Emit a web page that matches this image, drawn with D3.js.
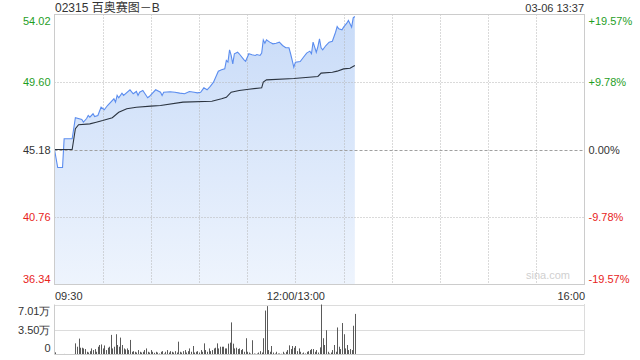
<!DOCTYPE html>
<html>
<head>
<meta charset="utf-8">
<script src="https://cdn.jsdelivr.net/npm/d3@7"></script>
<style>
  body { margin:0; background:#fff; }
  svg { display:block; font-family:"Liberation Sans", Arial, "Noto Sans CJK SC", sans-serif; }
</style>
</head>
<body>
<svg id="chart" width="640" height="360"></svg>
<script>
// 02315 百奥赛图－B 分时
const title = "02315 百奥赛图－B"
const stamp = "03-06 13:37"
const preClose = 45.18

const priceTicks = [54.02, 49.60, 45.18, 40.76, 36.34]
const pctTicks = ["+19.57%", "+9.78%", "0.00%", "-9.78%", "-19.57%"]
const timeTicks = ["09:30", "12:00/13:00", "16:00"]
const volTicks = [0, 3.50, 7.01]

// 价格 (采样点)
const priceTime = ["09:30","09:32","09:35","09:36","09:41","09:43","09:47","09:48","09:50","09:51",
  "09:52","09:54","09:55","09:57","09:59","10:01","10:03","10:07","10:08","10:09",
  "10:10","10:12","10:13","10:17","10:19","10:21","10:22","10:23","10:25","10:28",
  "10:29","10:33","10:36","10:37","10:38","10:42","10:45","10:48","10:51","10:54",
  "10:57","10:59","11:01","11:03","11:05","11:07","11:09","11:12","11:14","11:16",
  "11:17","11:18","11:19","11:20","11:21","11:22","11:24","11:25","11:28","11:29",
  "11:31","11:33","11:35","11:36","11:38","11:39","11:40","11:41","11:42","11:44",
  "11:46","11:48","11:50","11:52","11:54","11:56","11:57","11:58","11:59","13:00",
  "13:03","13:05","13:07","13:09","13:10","13:11","13:12","13:13","13:14","13:15",
  "13:16","13:17","13:19","13:21","13:23","13:25","13:26","13:27","13:29","13:30",
  "13:32","13:33","13:34","13:35","13:36","13:37"]
const priceVal = [45.18,44.00,44.00,45.88,45.88,47.26,47.14,46.97,47.21,47.41,
  47.30,47.52,47.34,47.41,47.95,47.78,48.06,48.50,48.28,48.72,
  48.57,48.87,48.72,49.09,48.83,48.98,48.72,48.93,49.04,48.57,
  48.65,49.09,48.93,48.72,48.93,48.96,48.93,48.87,48.83,48.98,
  48.93,48.89,48.93,49.22,49.09,49.31,49.59,50.31,50.40,50.46,
  51.01,50.90,51.71,51.34,50.79,51.45,51.55,51.45,51.05,50.96,
  51.45,51.38,51.34,51.40,51.34,51.49,52.36,52.14,52.36,52.21,
  52.10,52.14,52.21,51.99,51.84,51.84,51.45,51.01,50.57,50.90,
  50.94,51.22,51.49,51.62,51.45,52.21,51.88,51.55,51.92,52.43,
  51.84,51.71,51.99,52.21,52.27,52.86,53.23,53.08,53.02,53.19,
  53.45,53.63,53.41,53.19,53.80,53.89]

// 均价
const avgTime = ["09:30","09:41","09:43","09:45","09:52","09:56","10:00","10:06","10:10","10:15",
  "10:21","10:30","10:36","10:50","11:08","11:14","11:17","11:20","11:25","11:31",
  "11:38","11:39","11:40","11:42","11:59","13:14","13:16","13:23","13:26","13:30",
  "13:34","13:37"]
const avgVal = [45.18,45.18,46.54,46.80,46.86,46.97,47.08,47.26,47.62,47.85,
  47.95,48.02,48.06,48.28,48.34,48.50,48.60,48.93,49.04,49.13,
  49.21,49.22,49.59,49.74,49.83,49.96,50.18,50.24,50.31,50.46,
  50.50,50.68]

// 成交量 (万股), 每分钟 09:30 起
const volume = [0.30,0.05,0.05,0.05,0.05,0.05,0.08,0.05,0.05,0.05,
  0.05,0.05,0.08,1.56,1.09,2.23,0.95,0.95,0.85,0.76,
  0.38,0.28,0.47,0.85,0.62,0.76,0.38,1.09,1.33,1.41,
  0.85,1.27,0.62,0.95,1.09,2.75,0.85,1.09,2.84,1.33,
  1.09,2.37,1.33,0.85,0.71,0.85,0.62,2.04,0.38,0.47,
  0.38,0.28,0.62,0.38,0.28,0.38,0.62,0.85,0.38,0.28,
  0.62,0.38,0.24,0.38,0.28,0.14,0.38,0.47,0.14,0.38,
  0.62,0.28,0.47,0.38,0.28,0.47,0.28,1.80,0.38,0.28,
  0.47,0.62,0.28,0.47,0.85,0.38,1.19,0.28,0.38,0.47,
  0.28,0.62,0.38,1.56,0.62,0.38,0.85,0.47,0.62,0.85,
  0.95,1.56,0.85,1.09,1.09,1.09,0.85,0.85,1.52,1.66,
  4.50,1.52,0.85,0.95,0.76,0.85,0.62,0.76,0.38,2.28,
  0.38,0.28,0.14,2.00,0.14,0.10,0.14,0.28,0.47,0.28,
  2.28,6.16,6.78,0.62,0.38,1.19,0.28,0.14,0.38,0.14,
  0.14,0.10,0.38,0.14,0.38,0.62,1.28,0.76,1.19,0.95,
  1.19,0.47,0.85,0.38,0.14,0.28,0.14,0.38,0.47,0.62,
  0.76,0.76,0.38,0.62,0.28,1.00,7.01,2.28,1.33,3.40,
  0.38,0.14,0.28,0.62,1.33,0.38,3.79,1.09,0.76,4.41,
  2.84,0.85,1.33,0.62,0.76,0.62,4.03,5.69]

const green = "#1f9e1f", red = "#e8241c", dark = "#333"

// 交易分钟: 上午 0-150, 下午 150-330
function tradeMin(t) {
  const p = t.split(":"), v = +p[0] * 60 + +p[1]
  return v <= 720 ? v - 570 : v - 780 + 150
}

const svg = d3.select("#chart")
const plot = {left:54.5, right:584.5, top:14.5, bottom:284.5}
const volBox = {top:304.5, bottom:354.5}

const x = d3.scaleLinear().domain([0, 330]).range([plot.left, plot.right])
const y = d3.scaleLinear().domain([36.34, 54.02]).range([plot.bottom, plot.top])
const yVol = d3.scaleLinear().domain([0, 7.01]).range([volBox.bottom, volBox.top])

const grad = svg.append("defs").append("linearGradient")
  .attr("id", "fill").attr("x1", 0).attr("y1", 0).attr("x2", 0).attr("y2", 1)
grad.append("stop").attr("offset", "0%").attr("stop-color", "#c8dbf8")
grad.append("stop").attr("offset", "100%").attr("stop-color", "#eef4fd")

// 标题
svg.append("text").attr("x", 55).attr("y", 11.5)
  .style("font-size", "12px").attr("fill", dark).text(title)
svg.append("text").attr("x", 584).attr("y", 11.5).attr("text-anchor", "end")
  .style("font-size", "11px").attr("fill", dark).text(stamp)

// 面积
const pts = priceTime.map((t, i) => [tradeMin(t), priceVal[i]])
const area = d3.area().x(d => x(d[0])).y0(plot.bottom).y1(d => y(d[1]))
svg.append("path").datum(pts).attr("d", area).attr("fill", "url(#fill)")

// 网格
const grid = svg.append("g").attr("stroke", "#b4b4b4").attr("stroke-width", 1)
grid.selectAll(".vg").data(d3.range(30, 330, 30)).enter().append("line")
  .attr("x1", d => Math.round(x(d)) + 0.5).attr("x2", d => Math.round(x(d)) + 0.5)
  .attr("y1", plot.top).attr("y2", plot.bottom)
  .attr("stroke-dasharray", "1,2")
grid.selectAll(".hg").data([priceTicks[1], priceTicks[3]]).enter().append("line")
  .attr("x1", plot.left).attr("x2", plot.right)
  .attr("y1", d => Math.round(y(d)) + 0.5).attr("y2", d => Math.round(y(d)) + 0.5)
  .attr("stroke-dasharray", "1,2")
grid.append("line")
  .attr("x1", plot.left).attr("x2", plot.right)
  .attr("y1", Math.round(y(preClose)) + 0.5).attr("y2", Math.round(y(preClose)) + 0.5)
  .attr("stroke", "#a0a0a0").attr("stroke-dasharray", "3,2")

// 价格线 + 均价线
svg.append("path").datum(pts)
  .attr("d", d3.line().x(d => x(d[0])).y(d => y(d[1])))
  .attr("fill", "none").attr("stroke", "#5b8def").attr("stroke-width", 1.1)

const avgPts = avgTime.map((t, i) => [tradeMin(t), avgVal[i]])
svg.append("path").datum(avgPts)
  .attr("d", d3.line().x(d => x(d[0])).y(d => y(d[1])))
  .attr("fill", "none").attr("stroke", "#2b3440").attr("stroke-width", 1.1)

// 边框
svg.append("rect").attr("x", plot.left).attr("y", plot.top)
  .attr("width", plot.right - plot.left).attr("height", plot.bottom - plot.top)
  .attr("fill", "none").attr("stroke", "#cccccc")

svg.append("text").attr("x", 548).attr("y", 279).attr("text-anchor", "middle")
  .style("font-size", "11px").attr("fill", "#d0d0d0").text("sina.com")

// 左轴 价格
const colorOf = i => i < 2 ? green : (i == 2 ? dark : red)
const shift = i => i == 0 ? 6 : (i == 4 ? -5.5 : 0)

const yAxis = d3.axisLeft(y).tickValues(priceTicks).tickSize(0).tickPadding(4)
  .tickFormat(d3.format(".2f"))
const gl = svg.append("g").attr("transform", "translate(" + plot.left + ",0)").call(yAxis)
gl.select(".domain").remove()
gl.selectAll("text").style("font-size", "11px").style("font-family", "inherit")
  .attr("fill", (d, i) => colorOf(i)).attr("dy", (d, i) => (0.32 * 11 + shift(i)) + "px")

const yAxisR = d3.axisRight(y).tickValues(priceTicks).tickSize(0).tickPadding(4)
  .tickFormat((d, i) => pctTicks[i])
const gr = svg.append("g").attr("transform", "translate(" + plot.right + ",0)").call(yAxisR)
gr.select(".domain").remove()
gr.selectAll("text").style("font-size", "11px").style("font-family", "inherit")
  .attr("fill", (d, i) => colorOf(i)).attr("dy", (d, i) => (0.32 * 11 + shift(i)) + "px")

// 时间轴
const xAxis = d3.axisBottom(x).tickValues([0, 150, 330]).tickSize(0).tickPadding(8)
  .tickFormat((d, i) => timeTicks[i])
const gx = svg.append("g").attr("transform", "translate(0," + plot.bottom + ")").call(xAxis)
gx.select(".domain").remove()
gx.selectAll("text").style("font-size", "11px").style("font-family", "inherit").attr("fill", dark)
  .attr("text-anchor", (d, i) => i == 0 ? "start" : (i == 2 ? "end" : "middle"))

// 成交量
const vg = svg.append("g")
vg.selectAll(".vl").data(volTicks.slice(1)).enter().append("line")
  .attr("x1", plot.left).attr("x2", plot.right)
  .attr("y1", d => Math.round(yVol(d)) + 0.5).attr("y2", d => Math.round(yVol(d)) + 0.5)
  .attr("stroke", "#b8b8b8").attr("stroke-dasharray", "1,1")
vg.append("line").attr("x1", plot.right).attr("x2", plot.right)
  .attr("y1", volBox.top).attr("y2", volBox.bottom)
  .attr("stroke", "#b8b8b8").attr("stroke-dasharray", "1,1")

vg.selectAll(".bar").data(volume).enter().append("line")
  .attr("class", "bar")
  .attr("x1", (d, i) => Math.round(x(i)) + 0.5).attr("x2", (d, i) => Math.round(x(i)) + 0.5)
  .attr("y1", volBox.bottom).attr("y2", d => yVol(d))
  .attr("stroke", "#5a5a5a").attr("stroke-width", 1)

vg.append("line").attr("x1", plot.left).attr("x2", plot.right)
  .attr("y1", volBox.bottom).attr("y2", volBox.bottom).attr("stroke", "#cccccc")
vg.append("line").attr("x1", plot.left).attr("x2", plot.left)
  .attr("y1", volBox.top).attr("y2", volBox.bottom).attr("stroke", "#cccccc")

const vShift = i => i == 2 ? 6.5 : (i == 0 ? -6.5 : 0)
const yAxisV = d3.axisLeft(yVol).tickValues(volTicks).tickSize(0).tickPadding(4)
  .tickFormat(d => d ? d.toFixed(2) + "万" : "0")
const gv = svg.append("g").attr("transform", "translate(" + plot.left + ",0)").call(yAxisV)
gv.select(".domain").remove()
gv.selectAll("text").style("font-size", "11px").style("font-family", "inherit").attr("fill", dark)
  .attr("dy", (d, i) => (0.32 * 11 + vShift(i)) + "px")
</script>
</body>
</html>
